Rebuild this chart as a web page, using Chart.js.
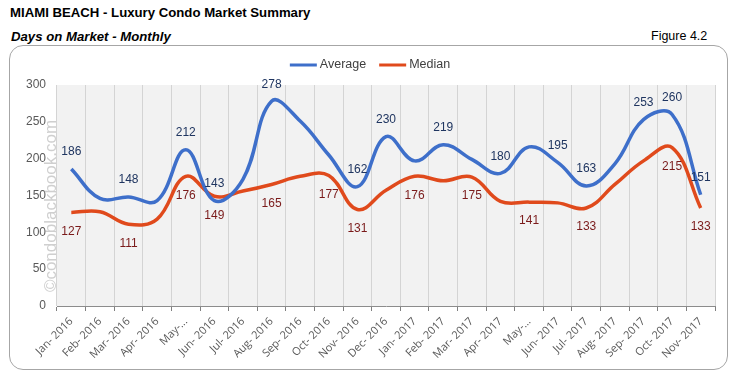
<!DOCTYPE html>
<html>
<head>
<meta charset="utf-8">
<script src="https://cdn.jsdelivr.net/npm/chart.js@4"></script>
<style>
  body { margin: 0; background: #ffffff; }
  #page { position: relative; width: 743px; height: 379px; font-family: "Liberation Sans", Arial, sans-serif; }
  #title { position: absolute; left: 10px; top: 5px; font-size: 13.2px; font-weight: bold; color: #000; }
  #subtitle { position: absolute; left: 11px; top: 29px; font-size: 13.2px; font-weight: bold; font-style: italic; color: #000; }
  #figure { position: absolute; left: 651px; top: 29px; font-size: 12.5px; color: #000; }
  #frame { position: absolute; left: 9px; top: 45px; width: 717px; height: 323px; border: 1px solid #a6a6a6; border-radius: 14px; }
  #chart { position: absolute; left: 0; top: 0; }
</style>
</head>
<body>
<div id="page">
  <div id="title">MIAMI BEACH - Luxury Condo Market Summary</div>
  <div id="subtitle">Days on Market - Monthly</div>
  <div id="figure">Figure 4.2</div>
  <div id="frame"></div>
  <canvas id="chart" width="743" height="379"></canvas>
</div>
<script>
/* Chart data */
let months = ['Jan- 2016', 'Feb- 2016', 'Mar- 2016', 'Apr- 2016', 'May-...', 'Jun- 2016', 'Jul- 2016', 'Aug- 2016',
    'Sep- 2016', 'Oct- 2016', 'Nov- 2016', 'Dec- 2016', 'Jan- 2017', 'Feb- 2017', 'Mar- 2017', 'Apr- 2017',
    'May-...', 'Jun- 2017', 'Jul- 2017', 'Aug- 2017', 'Sep- 2017', 'Oct- 2017', 'Nov- 2017']

let averageDays = [186, 146, 148, 143, 212, 143, 172, 278, 251, 205, 162, 230, 197, 219, 199, 180, 216, 195, 163, 193, 253, 260, 151]
let medianDays = [127, 128, 111, 118, 176, 149, 156, 165, 176, 177, 131, 157, 176, 170, 175, 142, 141, 140, 133, 165, 197, 215, 133]

// which points carry a value label in the original
let averageLabeled = [1, 0, 1, 0, 1, 1, 0, 1, 0, 0, 1, 1, 0, 1, 0, 1, 0, 1, 1, 0, 1, 1, 1]
let medianLabeled = [1, 0, 1, 0, 1, 1, 0, 1, 0, 1, 1, 0, 1, 0, 1, 0, 1, 0, 1, 0, 0, 1, 1]

let yTicks = [0, 50, 100, 150, 200, 250, 300]

let blue = '#3e6fca'
let red = '#e04a1c'

// grey plot area behind the lines
let plotBackground = {
    id: 'plotBackground',
    beforeDraw(chart) {
        let a = chart.chartArea
        chart.ctx.save()
        chart.ctx.fillStyle = '#f2f2f2'
        chart.ctx.fillRect(a.left, a.top, a.right - a.left, a.bottom - a.top)
        chart.ctx.restore()
    }
}

// value labels, above for average and below for median
let valueLabels = {
    id: 'valueLabels',
    afterDatasetsDraw(chart) {
        let ctx = chart.ctx
        ctx.save()
        ctx.font = '12px "Liberation Sans", Arial, sans-serif'
        ctx.textAlign = 'center'
        ctx.textBaseline = 'middle'
        chart.data.datasets.forEach((ds, d) => {
            let meta = chart.getDatasetMeta(d)
            let flags = d == 0 ? averageLabeled : medianLabeled
            ctx.fillStyle = d == 0 ? '#1f3560' : '#7a1a1a'
            meta.data.forEach((pt, i) => {
                if (!flags[i]) return
                let dy = d == 0 ? -17 : 19
                ctx.fillText(String(ds.data[i]), pt.x, pt.y + dy)
            })
        })
        ctx.restore()
    }
}

// legend drawn as short lines above the plot, plus the watermark
let legendAndMark = {
    id: 'legendAndMark',
    afterDraw(chart) {
        let ctx = chart.ctx
        ctx.save()
        ctx.font = '12.5px "Liberation Sans", Arial, sans-serif'
        ctx.textBaseline = 'middle'
        let items = chart.data.datasets.map(ds => ({ text: ds.label, color: ds.borderColor }))
        let lineW = 27, gapText = 3, gapItem = 13
        let total = 0
        items.forEach((it, i) => {
            total += lineW + gapText + ctx.measureText(it.text).width + (i < items.length - 1 ? gapItem : 0)
        })
        let x = 370 - total / 2
        let y = 65
        items.forEach(it => {
            ctx.strokeStyle = it.color
            ctx.lineWidth = 3
            ctx.beginPath()
            ctx.moveTo(x, y)
            ctx.lineTo(x + lineW, y)
            ctx.stroke()
            x += lineW + gapText
            ctx.fillStyle = '#404040'
            ctx.fillText(it.text, x, y)
            x += ctx.measureText(it.text).width + gapItem
        })

        ctx.translate(51, 206)
        ctx.rotate(-Math.PI / 2)
        ctx.font = '17px "Liberation Sans", Arial, sans-serif'
        ctx.textAlign = 'center'
        ctx.fillStyle = 'rgba(160,160,160,0.5)'
        ctx.fillText('\u00A9condoblackbook.com', 0, 0)
        ctx.restore()
    }
}

let chartCanvas = document.querySelector('#chart')
let chartCtx = chartCanvas.getContext('2d')

let domChart = new Chart(chartCtx, {
    type: 'line',
    data: {
        labels: months,
        datasets: [{
            label: 'Average',
            data: averageDays,
            borderColor: blue,
            borderWidth: 3.5,
            pointRadius: 0,
            tension: 0.4,
            fill: false
        }, {
            label: 'Median',
            data: medianDays,
            borderColor: red,
            borderWidth: 3.5,
            pointRadius: 0,
            tension: 0.4,
            fill: false
        }]
    },
    options: {
        responsive: false,
        animation: false,
        layout: { padding: { left: 0, right: 28, top: 85, bottom: 0 } },
        plugins: {
            legend: { display: false },
            tooltip: { enabled: false }
        },
        scales: {
            x: {
                offset: true,
                grid: { offset: true, color: '#d4d4d4', tickColor: '#7f7f7f', tickLength: 5, lineWidth: 1 },
                border: { color: '#8c8c8c', width: 1 },
                ticks: {
                    autoSkip: false,
                    minRotation: 45,
                    maxRotation: 45,
                    padding: 4,
                    color: '#595959',
                    font: { family: '"Open Sans", sans-serif', size: 11 }
                },
                afterFit(scale) { scale.height = 73 }
            },
            y: {
                min: 0,
                max: 300,
                grid: { display: false, drawTicks: false },
                border: { display: false },
                afterBuildTicks(scale) { scale.ticks = yTicks.map(v => ({ value: v })) },
                ticks: {
                    padding: 11,
                    color: '#595959',
                    font: { family: '"Liberation Sans", Arial, sans-serif', size: 12 }
                },
                afterFit(scale) { scale.width = 57 }
            }
        }
    },
    plugins: [plotBackground, valueLabels, legendAndMark]
})
</script>
</body>
</html>
